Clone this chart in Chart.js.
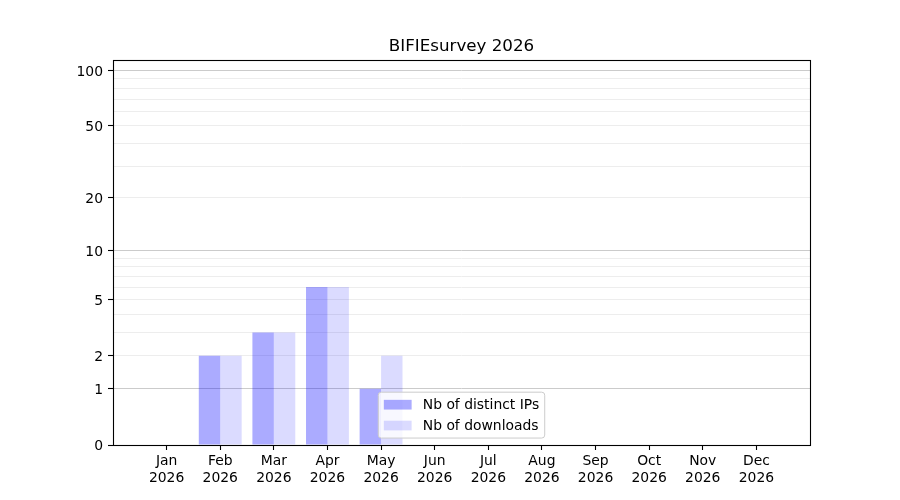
<!DOCTYPE html>
<html>
<head>
<meta charset="utf-8">
<script src="https://cdn.jsdelivr.net/npm/chart.js@4"></script>
<style>
  html, body { margin: 0; padding: 0; background: #ffffff; }
  #wrap { width: 900px; height: 500px; position: relative; }
</style>
</head>
<body>
<div id="wrap"><canvas id="c" width="900" height="500"></canvas></div>
<script>
// ---- data ----
const titleText = "BIFIEsurvey 2026";
const months = ["Jan","Feb","Mar","Apr","May","Jun","Jul","Aug","Sep","Oct","Nov","Dec"];
const year = "2026";
const distinctIPs = [0, 2, 3, 6, 1, 0, 0, 0, 0, 0, 0, 0];
const downloads   = [0, 2, 3, 6, 2, 0, 0, 0, 0, 0, 0, 0];
const seriesLabels = ["Nb of distinct IPs", "Nb of downloads"];
const yTickValues = [0,1,2,3,4,5,6,7,8,9,10,20,30,40,50,60,70,80,90,100];
const yTickLabels = [0,1,2,5,10,20,50,100];
const yMajorGrid = [1,10,100];
const yMax = 114;

// ---- custom log(1+x) scale ----
class Log1pScale extends Chart.Scale {
  constructor(cfg) { super(cfg); this._startValue = 0; this._valueRange = 1; }
  parse(raw) { const v = +raw; return Number.isFinite(v) ? v : null; }
  determineDataLimits() {
    const { max } = this.getMinMax(true);
    this.min = this.options.min ?? 0;
    this.max = this.options.max ?? max;
  }
  buildTicks() { return yTickValues.map(v => ({ value: v })); }
  configure() {
    super.configure();
    const s = Math.log10(1 + this.min);
    this._startValue = s;
    this._valueRange = Math.log10(1 + this.max) - s;
  }
  getLabelForValue(v) { return String(v); }
  getPixelForValue(v) {
    if (v === null || v === undefined || isNaN(v)) return NaN;
    return this.getPixelForDecimal((Math.log10(1 + v) - this._startValue) / this._valueRange);
  }
  getValueForPixel(p) {
    return Math.pow(10, this._startValue + this.getDecimalForPixel(p) * this._valueRange) - 1;
  }
}
Log1pScale.id = 'log1p';
Log1pScale.defaults = {};
Chart.register(Log1pScale);

const FONT = "'DejaVu Sans', sans-serif";
const FS = 13.9;

const framePlugin = {
  id: 'frame',
  afterDraw(chart) {
    const { ctx, chartArea: a } = chart;
    ctx.save();
    ctx.strokeStyle = '#000';
    ctx.lineWidth = 1.1;
    ctx.strokeRect(Math.round(a.left) + 0.5, Math.round(a.top) + 0.5,
                   Math.round(a.right - a.left), Math.round(a.bottom - a.top));
    // title
    ctx.fillStyle = '#000';
    ctx.font = `16.7px ${FONT}`;
    ctx.textAlign = 'center';
    ctx.textBaseline = 'alphabetic';
    ctx.fillText(titleText, (a.left + a.right) / 2, a.top - 9);
    ctx.restore();
  }
};

const legendPlugin = {
  id: 'innerLegend',
  afterDatasetsDraw(chart) {
    const { ctx, chartArea: a } = chart;
    const ds = chart.data.datasets;
    ctx.save();
    ctx.font = `${FS}px ${FONT}`;
    const tw = Math.max(...ds.map(d => ctx.measureText(d.label).width));
    const borderpad = 0.4 * FS, handleLen = 2.0 * FS, handleH = 0.7 * FS,
          textPad = 0.8 * FS, labelSp = 0.5 * FS, axPad = 0.5 * FS, rowH = FS;
    const w = 2 * borderpad + handleLen + textPad + tw;
    const h = 2 * borderpad + ds.length * rowH + (ds.length - 1) * labelSp;
    const x = (a.left + a.right) / 2 - w / 2;
    const y = a.bottom - axPad - h;
    ctx.beginPath();
    ctx.roundRect(x, y, w, h, 3);
    ctx.fillStyle = 'rgba(255,255,255,0.8)';
    ctx.fill();
    ctx.strokeStyle = '#cccccc';
    ctx.lineWidth = 1;
    ctx.stroke();
    ds.forEach((d, i) => {
      const cy = y + borderpad + rowH / 2 + i * (rowH + labelSp);
      ctx.fillStyle = d.backgroundColor;
      ctx.fillRect(x + borderpad, cy - handleH / 2, handleLen, handleH);
      ctx.fillStyle = '#000';
      ctx.textAlign = 'left';
      ctx.textBaseline = 'middle';
      ctx.fillText(d.label, x + borderpad + handleLen + textPad, cy + 1);
    });
    ctx.restore();
  }
};

new Chart(document.getElementById('c'), {
  type: 'bar',
  data: {
    datasets: [
      { label: seriesLabels[0], data: distinctIPs.map((v, i) => ({ x: i, y: v })),
        backgroundColor: 'rgba(0,0,255,0.33)', borderWidth: 0 },
      { label: seriesLabels[1], data: downloads.map((v, i) => ({ x: i, y: v })),
        backgroundColor: 'rgba(0,0,255,0.14)', borderWidth: 0 }
    ]
  },
  options: {
    responsive: false,
    animation: false,
    devicePixelRatio: 1,
    categoryPercentage: 0.8,
    barPercentage: 1.0,
    layout: { padding: { top: 60, right: 90, bottom: 0, left: 0 } },
    plugins: { legend: { display: false }, title: { display: false }, tooltip: { enabled: false } },
    scales: {
      x: {
        type: 'linear',
        min: -1, max: 12,
        offset: false,
        afterBuildTicks(scale) { scale.ticks = months.map((m, i) => ({ value: i })); },
        afterFit(scale) { scale.height = 55; },
        border: { display: false },
        grid: { drawOnChartArea: false, drawTicks: true, tickLength: 5, tickColor: '#000', tickWidth: 1.1, offset: false },
        ticks: {
          autoSkip: false, maxRotation: 0, minRotation: 0, padding: 3,
          color: '#000', font: { family: FONT, size: FS, lineHeight: 1.2 },
          callback: (v) => [months[v], year]
        }
      },
      y: {
        type: 'log1p',
        min: 0, max: yMax,
        afterFit(scale) { scale.width = 113; },
        border: { display: false },
        grid: {
          color: (c) => (c.tick && yMajorGrid.includes(c.tick.value)) ? '#cbcbcb' : (c.tick && c.tick.value === 0 ? 'rgba(0,0,0,0)' : '#ededed'),
          lineWidth: 1,
          tickLength: 5,
          tickWidth: 1.1,
          tickColor: (c) => (c.tick && yTickLabels.includes(c.tick.value)) ? '#000' : 'rgba(0,0,0,0)'
        },
        ticks: {
          padding: 5, autoSkip: false, labelOffset: 1.5,
          color: '#000', font: { family: FONT, size: FS },
          callback: (v) => yTickLabels.includes(v) ? String(v) : ''
        }
      }
    }
  },
  plugins: [framePlugin, legendPlugin]
});
</script>
</body>
</html>
